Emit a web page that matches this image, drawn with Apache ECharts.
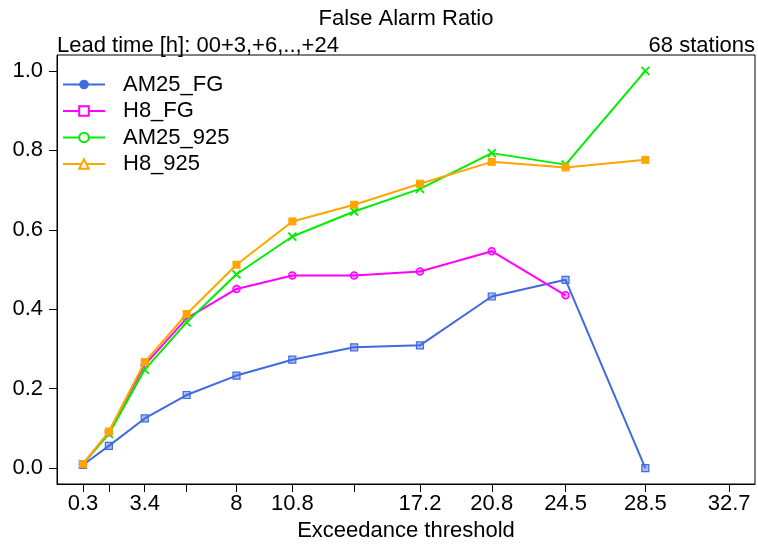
<!DOCTYPE html>
<html>
<head>
<meta charset="utf-8">
<script src="https://cdn.jsdelivr.net/npm/echarts@6/dist/echarts.min.js"></script>
<style>
html,body{margin:0;padding:0;background:#fff;}
#chart{width:758px;height:544px;}
</style>
</head>
<body>
<div id="chart"></div>
<script>
// Data
var thresholds = [0.3, 1.6, 3.4, 5.5, 8, 10.8, 13.9, 17.2, 20.8, 24.5, 28.5];
var tickValues = [0.3, 1.6, 3.4, 5.5, 8, 10.8, 13.9, 17.2, 20.8, 24.5, 28.5, 32.7];
var tickLabels = [0.3, 3.4, 8, 10.8, 17.2, 20.8, 24.5, 28.5, 32.7];
var yTicks = [0, 0.2, 0.4, 0.6, 0.8, 1.0];
var seriesNames = ['AM25_FG', 'H8_FG', 'AM25_925', 'H8_925'];
var am25FG  = [0.008, 0.056, 0.125, 0.184, 0.233, 0.273, 0.304, 0.309, 0.432, 0.474, 0.0];
var h8FG    = [0.010, 0.090, 0.260, 0.377, 0.451, 0.485, 0.485, 0.495, 0.546, 0.435, null];
var am25925 = [0.010, 0.086, 0.248, 0.367, 0.488, 0.583, 0.646, 0.703, 0.793, 0.764, 1.000];
var h8925   = [0.010, 0.092, 0.267, 0.388, 0.512, 0.621, 0.663, 0.716, 0.771, 0.757, 0.776];

var FONT = '"Liberation Sans", Arial, sans-serif';
var colors = ['#4169E1', '#FF00FF', '#00EE00', '#FFA500'];
var legendSymbols = ['circle', 'emptyRect', 'emptyCircle', 'emptyTriangle'];

function pairs(vals) {
  return thresholds.map(function (t, i) { return [t, vals[i]]; });
}

var chart = echarts.init(document.getElementById('chart'), null, {renderer: 'canvas'});

var series = [];
// legend-only series
seriesNames.forEach(function (n, i) {
  series.push({
    name: n, type: 'line', data: [],
    symbol: legendSymbols[i],
    color: colors[i],
    lineStyle: {width: 2, color: colors[i]}
  });
});
var xPath = 'path://M0,0L10,10M10,0L0,10';
var dataDefs = [
  {vals: am25FG, symbol: 'rect', size: 7, itemStyle: {color: 'rgba(65,105,225,0.45)', borderColor: '#4169E1', borderWidth: 1.2}},
  {vals: h8FG, symbol: 'circle', size: 7, itemStyle: {color: 'rgba(255,0,255,0.35)', borderColor: '#FF00FF', borderWidth: 1.5}},
  {vals: am25925, symbol: xPath, size: 8, itemStyle: {color: 'none', borderColor: '#00EE00', borderWidth: 1.8}},
  {vals: h8925, symbol: 'rect', size: 8, itemStyle: {color: '#FFA500', borderColor: '#FFA500', borderWidth: 0}}
];
dataDefs.forEach(function (d, i) {
  series.push({
    name: seriesNames[i] + ' data', type: 'line',
    data: pairs(d.vals),
    symbol: d.symbol, symbolSize: d.size,
    showAllSymbol: true,
    connectNulls: false,
    color: colors[i],
    lineStyle: {width: 2, color: colors[i]},
    itemStyle: d.itemStyle,
    emphasis: {disabled: true},
    animation: false,
    z: 3 + i
  });
});

var option = {
  animation: false,
  backgroundColor: '#fff',
  textStyle: {fontFamily: FONT},
  grid: {left: 57, right: 3, top: 55, bottom: 60, show: true, borderColor: '#000', borderWidth: 1,
    backgroundColor: 'transparent', containLabel: false, outerBoundsMode: 'none'},
  graphic: [
    {type: 'text', x: 406, y: 19, style: {text: 'False Alarm Ratio', font: '22px ' + FONT, fill: '#000', align: 'center', verticalAlign: 'middle'}},
    {type: 'text', x: 57, y: 46, style: {text: 'Lead time [h]: 00+3,+6,..,+24', font: '22px ' + FONT, fill: '#000', align: 'left', verticalAlign: 'middle'}},
    {type: 'text', x: 755, y: 46, style: {text: '68 stations', font: '22px ' + FONT, fill: '#000', align: 'right', verticalAlign: 'middle'}}
  ],
  legend: {
    orient: 'vertical',
    left: 62, top: 73.5,
    padding: 0,
    itemWidth: 42, itemHeight: 12,
    itemGap: 4.5,
    data: seriesNames,
    selectedMode: false,
    textStyle: {fontSize: 22, fontFamily: FONT, color: '#000', padding: [0, 0, 0, 13]}
  },
  xAxis: {
    type: 'value', min: -1, max: 34,
    name: 'Exceedance threshold', nameLocation: 'middle', nameGap: 33,
    nameTextStyle: {fontSize: 22, fontFamily: FONT, color: '#000'},
    axisLine: {show: true, onZero: false, lineStyle: {color: '#000', width: 1}},
    axisTick: {show: true, length: 8, lineStyle: {color: '#000', width: 1}, customValues: tickValues},
    axisLabel: {fontSize: 22, fontFamily: FONT, color: '#000', margin: 9, customValues: tickLabels,
      formatter: function (v) { return String(v); }},
    splitLine: {show: false}
  },
  yAxis: {
    type: 'value', min: -0.04, max: 1.04,
    axisLine: {show: true, onZero: false, lineStyle: {color: '#000', width: 1}},
    axisTick: {show: true, length: 8, lineStyle: {color: '#000', width: 1}, customValues: yTicks},
    axisLabel: {fontSize: 22, fontFamily: FONT, color: '#000', margin: 14, customValues: yTicks,
      formatter: function (v) { return v.toFixed(1); }},
    splitLine: {show: false}
  },
  series: series
};
chart.setOption(option);
</script>
</body>
</html>
